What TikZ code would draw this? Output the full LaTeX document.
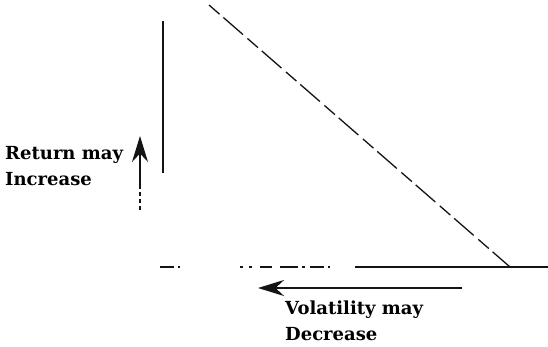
\documentclass[tikz,border=0pt]{standalone}
\usepackage{fontspec}
\setmainfont{DejaVu Serif}
\usepackage{tikz}
\usetikzlibrary{arrows.meta, positioning}
\definecolor{RVLine}{RGB}{20, 20, 20}

\tikzset{
  axisline/.style={draw=RVLine, line width=1.3pt},
  moveline/.style={draw=RVLine, line width=1.8pt, -{Stealth[length=26pt, width=16pt]}},
  caption/.style={anchor=west, align=left, inner sep=0pt, font=\fontsize{18}{26}\selectfont\bfseries}
}

\begin{document}
\begin{tikzpicture}[x=1pt, y=-1pt]
  \useasboundingbox (0,0) rectangle (548,347);
  % axes
  \coordinate (ytop) at (163,21);
  \coordinate (ybot) at (163,173);
  \coordinate (xleft) at (160,267);
  \coordinate (xmid) at (355,267);
  \coordinate (xright) at (548,267);
  \coordinate (diagtop) at (209,5);
  \coordinate (diagbot) at (510,267);
  \draw[axisline] (ytop) -- (ybot);
  \draw[axisline, dash pattern=on 14pt off 4pt on 2pt off 60pt on 3pt off 6pt on 3pt off 8pt on 12pt off 8pt on 18pt off 4pt on 3pt off 5pt] (xleft) -- (xmid);
  \draw[axisline] (xmid) -- (xright);
  \draw[axisline, dash pattern=on 14pt off 5pt on 26pt off 6pt] (diagtop) -- (diagbot);
  % return arrow
  \coordinate (upfoot) at (140,210);
  \coordinate (upmid) at (140,186);
  \coordinate (uptip) at (140,136);
  \draw[axisline, dash pattern=on 4pt off 3pt] (upfoot) -- (upmid);
  \draw[moveline] (upmid) -- (uptip);
  \node[caption] (retlabel) at (5,166) {Return may\\Increase};
  % volatility arrow
  \coordinate (leftstart) at (462,288);
  \coordinate (lefttip) at (258,288);
  \draw[moveline] (leftstart) -- (lefttip);
  \node[caption] (vollabel) at (285,321) {Volatility may\\Decrease};
\end{tikzpicture}
\end{document}
